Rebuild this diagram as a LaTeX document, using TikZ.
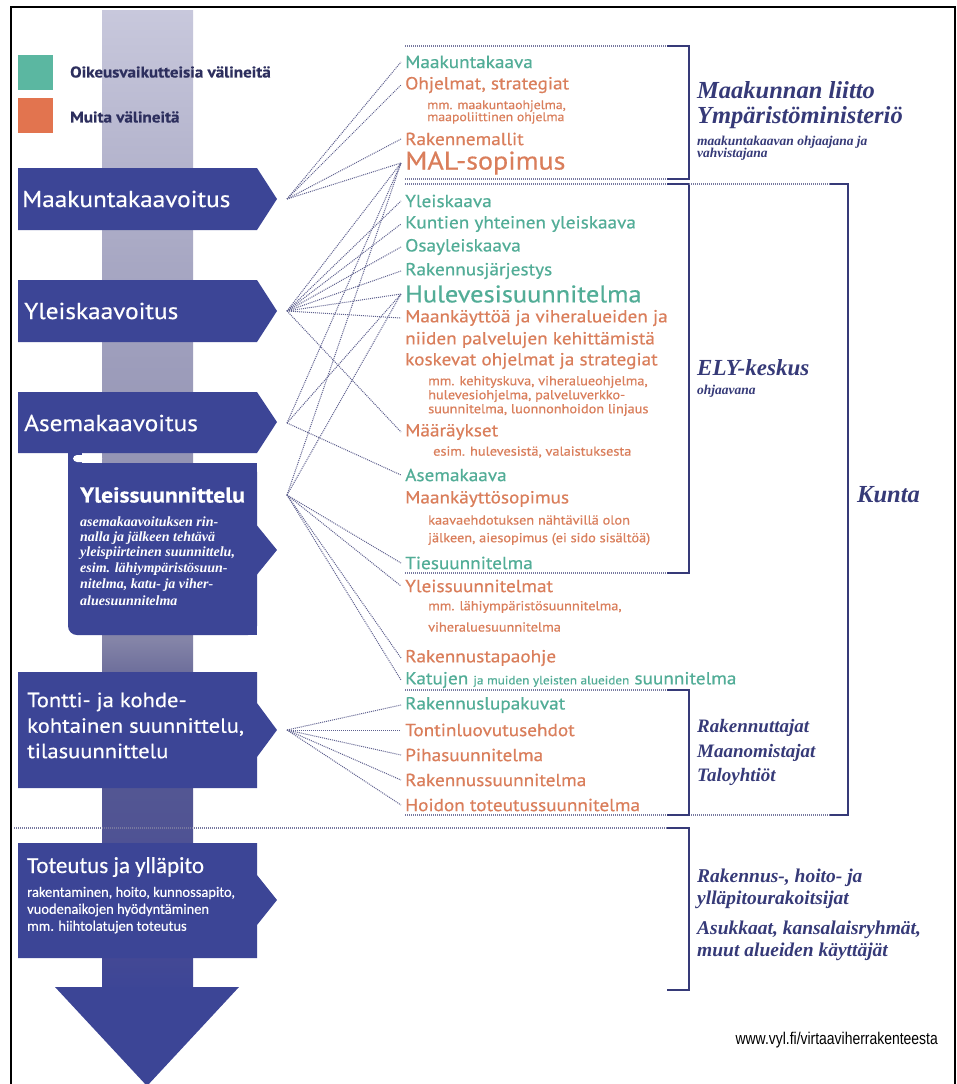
\documentclass[tikz,border=0pt]{standalone}
\usepackage{fontspec}
\setmainfont{PT Sans}[FakeStretch=1.1, FakeBold=0.5]
\newfontfamily\carl{Carlito}[FakeBold=0.4]
\newfontfamily\serifit{Liberation Serif}
\newfontfamily\wwwf{Liberation Sans}[FakeStretch=0.82]
\definecolor{tealtx}{HTML}{52AD97}
\definecolor{orangetx}{HTML}{DA7E5B}
\definecolor{navy}{HTML}{3C4596}
\definecolor{inkblue}{HTML}{363A78}
\definecolor{legink}{HTML}{2D2F5E}
\definecolor{dotc}{HTML}{5E608E}
\definecolor{barA}{HTML}{C8C8DC}
\definecolor{barB}{HTML}{A2A2BF}
\definecolor{barC}{HTML}{8585A8}
\definecolor{barD}{HTML}{5C5E92}
\definecolor{barE}{HTML}{444995}
\definecolor{legteal}{HTML}{5BB7A1}
\definecolor{legorange}{HTML}{E2744F}
\pgfdeclareverticalshading{barshade}{100bp}{color(0bp)=(navy); color(25bp)=(navy); color(27bp)=(barE); color(40bp)=(barD); color(43bp)=(barC); color(60bp)=(barB); color(75bp)=(barA); color(100bp)=(barA)}
\begin{document}
\begin{tikzpicture}[x=1pt,y=-1pt,
  item/.style={anchor=west, inner xsep=4pt, inner ysep=0pt, font=\fontsize{17.5}{20}\selectfont},
  ok/.style={item, text=tealtx},
  mu/.style={item, text=orangetx},
  sub/.style={anchor=west, inner sep=0pt, text=orangetx, font=\fontsize{13}{15}\selectfont},
  conn/.style={draw=dotc, line width=1pt, dash pattern=on 1pt off 1pt},
  hdot/.style={draw=dotc!85, line width=1.5pt, dash pattern=on 1pt off 1pt},
  brk/.style={draw=inkblue, line width=1.8pt},
  org/.style={anchor=west, inner sep=0pt, text=inkblue, font=\serifit\bfseries\itshape\fontsize{24.5}{28}\selectfont},
  orgm/.style={anchor=west, inner sep=0pt, text=inkblue, font=\serifit\bfseries\itshape\fontsize{19.5}{24}\selectfont},
  orgsub/.style={anchor=west, inner sep=0pt, text=inkblue, font=\serifit\bfseries\itshape\fontsize{13.5}{15}\selectfont},
  alabel/.style={anchor=west, inner sep=0pt, text=white, font=\fontsize{23}{26}\selectfont},
  tlabel/.style={anchor=west, inner sep=0pt, text=white, font=\fontsize{20.5}{24}\selectfont},
  wsub/.style={anchor=west, inner sep=0pt, text=white, font=\serifit\bfseries\itshape\fontsize{14}{16}\selectfont},
  csub/.style={anchor=west, inner sep=0pt, text=white, font=\carl\fontsize{14.5}{16}\selectfont},
]
\useasboundingbox (0,0) rectangle (957,1084);
\fill[white] (0,0) rectangle (957,1084);
\draw[black, line width=2pt] (11,7) rectangle (955,1100);

% vertical bar
\shade[shading=barshade] (102,10) rectangle (193,992);

% legend
\fill[legteal] (18,55) rectangle (53,90);
\fill[legorange] (18,98) rectangle (53,133);
\node[anchor=west, inner sep=0pt, text=legink, font=\bfseries\fontsize{15.5}{18}\selectfont] (leg1) at (70,72) {Oikeusvaikutteisia välineitä};
\node[anchor=west, inner sep=0pt, text=legink, font=\bfseries\fontsize{15.5}{18}\selectfont] (leg2) at (70,117) {Muita välineitä};

% left arrows
\fill[navy] (18,168) -- (257,168) -- (277,199) -- (257,230) -- (18,230) -- cycle;
\fill[navy] (18,280) -- (257,280) -- (277,311) -- (257,342) -- (18,342) -- cycle;
\fill[navy] (18,392) -- (257,392) -- (277,422) -- (257,453) -- (18,453) -- cycle;
\fill[navy, rounded corners=9pt] (68,463) rectangle (257,635);
\fill[navy] (160,463) rectangle (257,635);
\fill[navy] (255,523) -- (277,550) -- (255,577) -- cycle;
\fill[navy] (68,452) rectangle (82,472);
\fill[white, rounded corners=4pt] (73,455) rectangle (102,462);
\fill[white] (92,455) rectangle (102,462);
\fill[navy] (18,672) -- (257,672) -- (257,703) -- (277,730) -- (257,757) -- (257,788) -- (18,788) -- cycle;
\fill[navy] (18,843) -- (257,843) -- (257,875) -- (277,900) -- (257,925) -- (257,958) -- (18,958) -- cycle;
\fill[navy] (55,987) -- (239,987) -- (147,1086) -- cycle;

\node[alabel] (lM) at (22,199) {Maakuntakaavoitus};
\node[alabel] (lY) at (24,311) {Yleiskaavoitus};
\node[alabel] (lA) at (24,423) {Asemakaavoitus};
\node[alabel, font=\bfseries\fontsize{21.5}{24}\selectfont] (lS) at (80,495) {Yleissuunnittelu};
\node[wsub] (lS1) at (80,522) {asemakaavoituksen rin-};
\node[wsub] (lS2) at (80,538) {nalla ja jälkeen tehtävä};
\node[wsub] (lS3) at (80,553) {yleispiirteinen suunnittelu,};
\node[wsub] (lS4) at (80,569) {esim. lähiympäristösuun-};
\node[wsub] (lS5) at (80,585) {nitelma, katu- ja viher-};
\node[wsub] (lS6) at (80,601) {aluesuunnitelma};
\node[tlabel] (lT1) at (27,702) {Tontti- ja kohde-};
\node[tlabel] (lT2) at (27,727) {kohtainen suunnittelu,};
\node[tlabel] (lT3) at (27,751) {tilasuunnittelu};
\node[alabel, font=\carl\fontsize{23}{26}\selectfont] (lO) at (27,867) {Toteutus ja ylläpito};
\node[csub] (lO1) at (27,893) {rakentaminen, hoito, kunnossapito,};
\node[csub] (lO2) at (27,910) {vuodenaikojen hyödyntäminen};
\node[csub] (lO3) at (27,927) {mm. hiihtolatujen toteutus};

% fan origins
\coordinate (fM) at (287,199);
\coordinate (fY) at (287,311);
\coordinate (fA) at (287,423);
\coordinate (fS) at (287,495);
\coordinate (fT) at (287,730);

% right column items
\node[ok] (mk) at (401,62) {Maakuntakaava};
\node[mu] (oh) at (401,85) {Ohjelmat, strategiat};
\node[sub, font=\fontsize{12.5}{14}\selectfont] (oh1) at (427,106) {mm. maakuntaohjelma,};
\node[sub, font=\fontsize{12.5}{14}\selectfont] (oh2) at (427,118) {maapoliittinen ohjelma};
\node[mu] (rm) at (401,139) {Rakennemallit};
\node[mu, font=\fontsize{25.5}{29}\selectfont] (mal) at (401,163) {MAL-sopimus};
\node[ok] (yk) at (401,201) {Yleiskaava};
\node[ok] (kyy) at (401,224) {Kuntien yhteinen yleiskaava};
\node[ok] (oyk) at (401,247) {Osayleiskaava};
\node[ok] (rj) at (401,271) {Rakennusjärjestys};
\node[ok, font=\fontsize{24}{28}\selectfont] (hule) at (401,294) {Hulevesisuunnitelma};
\node[mu] (mkv) at (401,318) {Maankäyttöä ja viheralueiden ja};
\node[mu] (mkv2) at (401,340) {niiden palvelujen kehittämistä};
\node[mu] (mkv3) at (401,361) {koskevat ohjelmat ja strategiat};
\node[sub] (mkv4) at (428,382) {mm. kehityskuva, viheralueohjelma,};
\node[sub] (mkv5) at (428,396) {hulevesiohjelma, palveluverkko-};
\node[sub] (mkv6) at (428,410) {suunnitelma, luonnonhoidon linjaus};
\node[mu] (maar) at (401,432) {Määräykset};
\node[sub] (maar1) at (433,452) {esim. hulevesistä, valaistuksesta};
\node[ok] (ak) at (401,475) {Asemakaava};
\node[mu] (mks) at (401,499) {Maankäyttösopimus};
\node[sub] (mks1) at (428,520) {kaavaehdotuksen nähtävillä olon};
\node[sub] (mks2) at (428,539) {jälkeen, aiesopimus (ei sido sisältöä)};
\node[ok] (ties) at (401,563) {Tiesuunnitelma};
\node[mu] (ysm) at (401,586) {Yleissuunnitelmat};
\node[sub] (ysm1) at (428,607) {mm. lähiympäristösuunnitelma,};
\node[sub] (ysm2) at (428,627) {viheraluesuunnitelma};
\node[mu] (rto) at (401,658) {Rakennustapaohje};
\node[ok] (kat) at (401,680) {Katujen {\fontsize{12}{14}\selectfont ja muiden yleisten alueiden} suunnitelma};
\node[ok] (rlk) at (401,705) {Rakennuslupakuvat};
\node[mu] (tle) at (401,730) {Tontinluovutusehdot};
\node[mu] (pihs) at (401,755) {Pihasuunnitelma};
\node[mu] (rsu) at (401,780) {Rakennussuunnitelma};
\node[mu] (hts) at (401,805) {Hoidon toteutussuunnitelma};

% connectors
\foreach \t in {mk,oh,rm,mal} \draw[conn] (fM) -- (\t.west);
\foreach \t in {mal,yk,kyy,oyk,rj,hule,mkv,maar} \draw[conn] (fY) -- (\t.west);
\foreach \t in {mal,hule,ak} \draw[conn] (fA) -- (\t.west);
\foreach \t in {mal,hule,ties,ysm,rto,kat} \draw[conn] (fS) -- (\t.west);
\foreach \t in {rlk,tle,pihs,rsu,hts} \draw[conn] (fT) -- (\t.west);

% brackets
\draw[hdot] (405,46) -- (667,46);
\draw[brk] (667,46) -- (689,46) -- (689,179) -- (667,179);
\draw[hdot] (405,179) -- (667,179);
\draw[hdot] (405,184) -- (667,184);
\draw[brk] (667,184) -- (689,184) -- (689,573) -- (667,573);
\draw[hdot] (405,573) -- (667,573);
\draw[hdot] (689,184) -- (830,184);
\draw[brk] (830,184) -- (848,184) -- (848,815) -- (830,815);
\draw[hdot] (689,815) -- (830,815);
\draw[hdot] (405,690) -- (667,690);
\draw[brk] (667,690) -- (689,690) -- (689,815) -- (667,815);
\draw[hdot] (405,815) -- (667,815);
\draw[hdot] (14,828) -- (667,828);
\draw[brk] (667,828) -- (689,828) -- (689,990) -- (667,990);

% organisation labels
\node[org] (o1) at (697,90) {Maakunnan liitto};
\node[org] (o2) at (697,118) {Ympäristöministeriö};
\node[orgsub] (o3) at (697,142) {maakuntakaavan ohjaajana ja};
\node[orgsub] (o4) at (697,154) {vahvistajana};
\node[org, font=\serifit\bfseries\itshape\fontsize{23}{26}\selectfont] (ely) at (697,368) {ELY-keskus};
\node[orgsub] (ely2) at (697,391) {ohjaavana};
\node[org, font=\serifit\bfseries\itshape\fontsize{24.5}{28}\selectfont] (kunta) at (857,495) {Kunta};
\node[orgm, font=\serifit\bfseries\itshape\fontsize{19}{23}\selectfont] (r1) at (697,728) {Rakennuttajat};
\node[orgm, font=\serifit\bfseries\itshape\fontsize{19}{23}\selectfont] (r2) at (697,753) {Maanomistajat};
\node[orgm, font=\serifit\bfseries\itshape\fontsize{19}{23}\selectfont] (r3) at (697,777) {Taloyhtiöt};
\node[orgm] (u1) at (697,878) {Rakennus-, hoito- ja};
\node[orgm] (u2) at (697,900) {ylläpitourakoitsijat};
\node[orgm] (u3) at (697,930) {Asukkaat, kansalaisryhmät,};
\node[orgm] (u4) at (697,952) {muut alueiden käyttäjät};
\node[anchor=east, inner sep=0pt, font=\wwwf\fontsize{17}{20}\selectfont, text=black] (www) at (938,1040) {www.vyl.fi/virtaaviherrakenteesta};
\end{tikzpicture}
\end{document}
